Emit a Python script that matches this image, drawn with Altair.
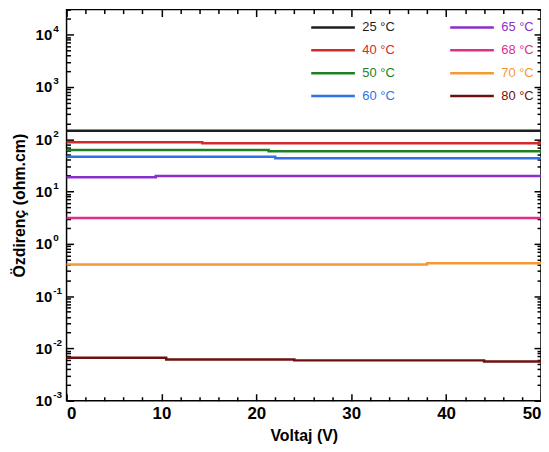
import altair as alt
import pandas as pd

# ---- data ----
labels = ["25 °C", "40 °C", "50 °C", "60 °C", "65 °C", "68 °C", "70 °C", "80 °C"]
colors = ["#1e1e1e", "#d42a2a", "#1f7f23", "#2f72e8", "#8b2fc9", "#dc2f8c", "#f39a35", "#6e1010"]

v25 = [0, 50];               r25 = [145, 145]
v40 = [0, 14.3, 50];         r40 = [87, 84, 84]
v50 = [0, 21.3, 50];         r50 = [62, 59, 59]
v60 = [0, 22, 50];           r60 = [46, 43, 43]
v65 = [0, 9.4, 50];          r65 = [18.8, 19.7, 19.7]
v68 = [0, 50];               r68 = [3.1, 3.1]
v70 = [0, 38, 50];           r70 = [0.40, 0.425, 0.425]
v80 = [0, 10.5, 24, 44, 50]; r80 = [0.0066, 0.0061, 0.0059, 0.0056, 0.0056]

x_major = [0, 10, 20, 30, 40, 50]
x_minor = [2, 4, 6, 8, 12, 14, 16, 18, 22, 24, 26, 28, 32, 34, 36, 38, 42, 44, 46, 48]
y_major = [1e-3, 1e-2, 1e-1, 1e0, 1e1, 1e2, 1e3, 1e4]
y_exponents = ["-3", "-2", "-1", "0", "1", "2", "3", "4"]
y_minor = [m * d for d in [1e-3, 1e-2, 1e-1, 1e0, 1e1, 1e2, 1e3] for m in range(2, 10)] + [2e4, 3e4]

series = [(labels[0], v25, r25), (labels[1], v40, r40), (labels[2], v50, r50), (labels[3], v60, r60),
          (labels[4], v65, r65), (labels[5], v68, r68), (labels[6], v70, r70), (labels[7], v80, r80)]
rows = []
for name, vs, rs in series:
    for v, r in zip(vs, rs):
        rows.append({"V": v, "R": r, "T": name})
df = pd.DataFrame(rows)

FONT = "Liberation Sans"
TICK = "black"
TW = 1.5
xscale = alt.Scale(domain=[0, 50], nice=False, zero=False)
yscale = alt.Scale(type="log", domain=[1e-3, 3e4], nice=False)

exp_expr = "[" + ",".join("'%s'" % e for e in y_exponents) + "][round(log(datum.value)/LN10)+3]"

def tick_axis(orient, values, size, **kw):
    return alt.Axis(orient=orient, values=values, offset=-size, tickSize=size, domain=False,
                    grid=False, labels=False, title=None, tickColor=TICK, tickWidth=TW, **kw)

x_bottom = alt.Axis(orient="bottom", values=x_major, offset=-7, tickSize=7, domain=False, grid=False,
                    tickColor=TICK, tickWidth=TW, labelFont=FONT, labelFontSize=17,
                    labelFontWeight="bold", labelColor="black", labelPadding=5,
                    title="Voltaj (V)", titleFont=FONT, titleFontSize=16, titleFontWeight="bold",
                    titleColor="black", titlePadding=6)
y_left = alt.Axis(orient="left", values=y_major, offset=-7, tickSize=7, domain=False, grid=False,
                  tickColor=TICK, tickWidth=TW, labelFont=FONT, labelFontSize=15,
                  labelFontWeight="bold", labelColor="black", labelPadding=15, labelExpr="'10'",
                  title="Özdirenç (ohm.cm)", titleFont=FONT, titleFontSize=16,
                  titleFontWeight="bold", titleColor="black", titlePadding=8)
y_exp = alt.Axis(orient="left", values=y_major, offset=0, ticks=False, tickSize=0, domain=False,
                 grid=False, labelFont=FONT, labelFontSize=10, labelFontWeight="bold",
                 labelColor="black", labelAlign="left", labelPadding=14, labelOffset=-6,
                 labelExpr=exp_expr, title=None)

color = alt.Color("T:N", scale=alt.Scale(domain=labels, range=colors),
                  legend=alt.Legend(orient="none", legendX=245, legendY=11, columns=2, title=None,
                                    symbolType="M-1,0H7", symbolSize=121, symbolStrokeWidth=2.5,
                                    labelFont=FONT, labelFontSize=13, labelOffset=39,
                                    labelColor=alt.ExprRef(expr="scale('color', datum.value)"),
                                    rowPadding=9, columnPadding=50, padding=0))

lines = alt.Chart(df).mark_line(interpolate="step-after", strokeWidth=2.5).encode(
    x=alt.X("V:Q", scale=xscale, axis=x_bottom),
    y=alt.Y("R:Q", scale=yscale, axis=y_left),
    color=color,
)

def ghost(xa, ya):
    return alt.Chart(df).mark_point(opacity=0).encode(
        x=alt.X("V:Q", scale=xscale, axis=xa),
        y=alt.Y("R:Q", scale=yscale, axis=ya),
    )

g1 = ghost(tick_axis("bottom", x_minor, 4), tick_axis("left", y_minor, 4))
g2 = ghost(tick_axis("top", x_major, 7), tick_axis("right", y_major, 7))
g3 = ghost(tick_axis("top", x_minor, 4), tick_axis("right", y_minor, 4))
g4 = ghost(None, y_exp)

chart = alt.layer(lines, g1, g2, g3, g4).resolve_axis(x="independent", y="independent").properties(
    width=478, height=394,
    autosize=alt.AutoSizeParams(type="none"),
    padding={"left": 59, "top": 0, "right": 0, "bottom": 42},
).configure_view(stroke="black", strokeWidth=1.5)

chart.save("out.html", embed_options={"renderer": "svg", "actions": False})
